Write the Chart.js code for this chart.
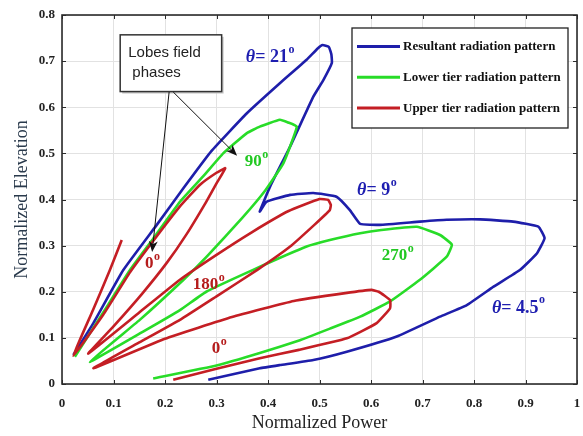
<!DOCTYPE html>
<html>
<head>
<meta charset="utf-8">
<script src="https://cdn.jsdelivr.net/npm/chart.js@4.4.0/dist/chart.umd.min.js"></script>
<style>
  html, body { margin: 0; padding: 0; background: #fff; }
</style>
</head>
<body>
<canvas id="pattern" width="583" height="436"></canvas>
<script>
const seriesNames = ['Resultant radiation pattern', 'Lower tier radiation pattern', 'Upper tier radiation pattern'];
const seriesColors = ['#1e1eaa', '#28dc28', '#c41e24'];

const xTickLabels = ['0', '0.1', '0.2', '0.3', '0.4', '0.5', '0.6', '0.7', '0.8', '0.9', '1'];
const yTickLabels = ['0', '0.1', '0.2', '0.3', '0.4', '0.5', '0.6', '0.7', '0.8'];

// resultant pattern (blue)
const resultantX = [0.022, 0.061, 0.119, 0.184, 0.236, 0.29, 0.359, 0.423, 0.475, 0.497, 0.506, 0.518, 0.523, 0.524, 0.508, 0.488, 0.443, 0.404, 0.384, 0.397, 0.443, 0.488, 0.533, 0.559, 0.579, 0.617, 0.695, 0.747, 0.812, 0.876, 0.925, 0.937, 0.922, 0.889, 0.838, 0.786, 0.734, 0.65, 0.553, 0.488, 0.423, 0.384, 0.284];
const resultantY = [0.063, 0.132, 0.247, 0.345, 0.425, 0.505, 0.587, 0.652, 0.703, 0.728, 0.735, 0.731, 0.715, 0.696, 0.66, 0.623, 0.515, 0.428, 0.374, 0.395, 0.41, 0.414, 0.406, 0.377, 0.347, 0.345, 0.352, 0.356, 0.357, 0.352, 0.341, 0.316, 0.283, 0.247, 0.211, 0.171, 0.146, 0.103, 0.07, 0.052, 0.041, 0.034, 0.009];

// lower tier pattern (green)
const lowerX = [0.177, 0.3, 0.384, 0.462, 0.52, 0.579, 0.637, 0.695, 0.747, 0.757, 0.734, 0.689, 0.62, 0.579, 0.52, 0.475, 0.37, 0.28, 0.229, 0.16, 0.054, 0.151, 0.236, 0.281, 0.35, 0.395, 0.43, 0.456, 0.439, 0.423, 0.384, 0.359, 0.313, 0.274, 0.229, 0.177, 0.132, 0.08, 0.025];
const lowerY = [0.012, 0.04, 0.067, 0.095, 0.12, 0.146, 0.179, 0.226, 0.276, 0.302, 0.323, 0.341, 0.334, 0.327, 0.312, 0.298, 0.247, 0.2, 0.16, 0.115, 0.048, 0.139, 0.226, 0.276, 0.36, 0.42, 0.479, 0.558, 0.567, 0.573, 0.558, 0.544, 0.5, 0.45, 0.395, 0.315, 0.247, 0.155, 0.059];

// upper tier pattern (red)
const upperX = [0.216, 0.3, 0.384, 0.46, 0.553, 0.611, 0.637, 0.637, 0.615, 0.601, 0.55, 0.45, 0.33, 0.2, 0.061, 0.15, 0.229, 0.3, 0.38, 0.443, 0.49, 0.52, 0.522, 0.517, 0.5, 0.44, 0.37, 0.3, 0.229, 0.15, 0.051, 0.1, 0.155, 0.203, 0.242, 0.28, 0.3, 0.317, 0.3, 0.268, 0.229, 0.177, 0.132, 0.08, 0.022, 0.06, 0.093, 0.116];
const upperY = [0.009, 0.033, 0.056, 0.074, 0.099, 0.132, 0.164, 0.182, 0.2, 0.204, 0.197, 0.18, 0.145, 0.098, 0.034, 0.09, 0.139, 0.19, 0.248, 0.298, 0.345, 0.377, 0.388, 0.399, 0.401, 0.375, 0.33, 0.28, 0.226, 0.155, 0.066, 0.125, 0.195, 0.262, 0.325, 0.395, 0.435, 0.468, 0.458, 0.432, 0.385, 0.31, 0.242, 0.15, 0.061, 0.16, 0.247, 0.312];

// lobe labels
const thetaLabels = [
  { x: 0.357, y: 0.709, text: '21' },
  { x: 0.573, y: 0.419, text: '9' },
  { x: 0.835, y: 0.165, text: '4.5' }
];
const phaseLabels = [
  { x: 0.355, y: 0.482, text: '90', series: 1 },
  { x: 0.621, y: 0.278, text: '270', series: 1 },
  { x: 0.161, y: 0.26, text: '0', series: 2 },
  { x: 0.254, y: 0.215, text: '180', series: 2 },
  { x: 0.291, y: 0.076, text: '0', series: 2 }
];
const calloutLines = ['Lobes field', ' phases'];
const calloutBox = { x0: 0.113, x1: 0.31, y0: 0.757, y1: 0.634 };
const calloutArrows = [
  { from: [0.208, 0.633], to: [0.175, 0.286] },
  { from: [0.216, 0.633], to: [0.34, 0.495] }
];

const labelColors = ['#1e1eb0', '#22c822', '#b51c1c'];
const serif = '"Liberation Serif", "Times New Roman", serif';

function toPoints(xs, ys) {
  return xs.map((x, i) => ({ x: x, y: ys[i] }));
}

function arrow(ctx, x1, y1, x2, y2) {
  const a = Math.atan2(y2 - y1, x2 - x1);
  ctx.beginPath();
  ctx.moveTo(x1, y1);
  ctx.lineTo(x2 - 6 * Math.cos(a), y2 - 6 * Math.sin(a));
  ctx.stroke();
  ctx.beginPath();
  ctx.moveTo(x2, y2);
  ctx.lineTo(x2 - 11 * Math.cos(a) + 4.5 * Math.sin(a), y2 - 11 * Math.sin(a) - 4.5 * Math.cos(a));
  ctx.lineTo(x2 - 8 * Math.cos(a), y2 - 8 * Math.sin(a));
  ctx.lineTo(x2 - 11 * Math.cos(a) - 4.5 * Math.sin(a), y2 - 11 * Math.sin(a) + 4.5 * Math.cos(a));
  ctx.closePath();
  ctx.fill();
}

// text with a raised small "o" for the degree mark
function degreeText(ctx, x, y, parts, size) {
  let cx = x;
  parts.forEach(p => {
    ctx.font = (p.italic ? 'italic ' : '') + 'bold ' + size + 'px ' + serif;
    ctx.fillText(p.t, cx, y);
    cx += ctx.measureText(p.t).width;
  });
  ctx.font = 'bold ' + Math.round(size * 0.68) + 'px ' + serif;
  ctx.fillText('o', cx + 0.5, y - size * 0.42);
}

const extras = {
  id: 'extras',
  afterDatasetsDraw(chart) {
    const { ctx, chartArea: a, scales: { x, y } } = chart;
    ctx.save();
    ctx.strokeStyle = '#2b2b2b';
    ctx.lineWidth = 1;
    x.ticks.forEach(t => {
      const px = Math.round(x.getPixelForValue(t.value)) + 0.5;
      ctx.beginPath();
      ctx.moveTo(px, a.bottom); ctx.lineTo(px, a.bottom - 4);
      ctx.moveTo(px, a.top); ctx.lineTo(px, a.top + 4);
      ctx.stroke();
    });
    y.ticks.forEach(t => {
      const py = Math.round(y.getPixelForValue(t.value)) + 0.5;
      ctx.beginPath();
      ctx.moveTo(a.left, py); ctx.lineTo(a.left + 4, py);
      ctx.moveTo(a.right, py); ctx.lineTo(a.right - 4, py);
      ctx.stroke();
    });
    ctx.lineWidth = 1.6;
    ctx.strokeRect(a.left, a.top, a.right - a.left, a.bottom - a.top);
    ctx.restore();
  },
  afterDraw(chart) {
    const { ctx, chartArea: a, scales: { x, y } } = chart;
    ctx.save();

    // legend
    const lx = a.right - 225, ly = a.top + 13, lw = 216, lh = 100;
    ctx.fillStyle = '#fff';
    ctx.fillRect(lx, ly, lw, lh);
    ctx.strokeStyle = '#222';
    ctx.lineWidth = 1.3;
    ctx.strokeRect(lx, ly, lw, lh);
    ctx.textBaseline = 'middle';
    ctx.font = 'bold 13px ' + serif;
    seriesNames.forEach((name, i) => {
      const ry = ly + 18.5 + i * 30.8;
      ctx.strokeStyle = seriesColors[i];
      ctx.lineWidth = 3;
      ctx.beginPath();
      ctx.moveTo(lx + 5, ry); ctx.lineTo(lx + 48, ry);
      ctx.stroke();
      ctx.fillStyle = '#111';
      ctx.fillText(name, lx + 51, ry + 0.5);
    });

    // lobe labels
    ctx.textBaseline = 'middle';
    ctx.fillStyle = labelColors[0];
    thetaLabels.forEach(l => {
      degreeText(ctx, x.getPixelForValue(l.x), y.getPixelForValue(l.y),
        [{ t: '\u03b8', italic: true }, { t: '= ' + l.text }], 18);
    });
    phaseLabels.forEach(l => {
      ctx.fillStyle = labelColors[l.series];
      degreeText(ctx, x.getPixelForValue(l.x), y.getPixelForValue(l.y), [{ t: l.text }], 17);
    });

    // callout box + arrows
    const bx0 = x.getPixelForValue(calloutBox.x0), bx1 = x.getPixelForValue(calloutBox.x1);
    const by0 = y.getPixelForValue(calloutBox.y0), by1 = y.getPixelForValue(calloutBox.y1);
    ctx.fillStyle = '#c8c8c8';
    ctx.fillRect(bx0 + 2, by0 + 2, bx1 - bx0, by1 - by0);
    ctx.fillStyle = '#fff';
    ctx.fillRect(bx0, by0, bx1 - bx0, by1 - by0);
    ctx.strokeStyle = '#333';
    ctx.lineWidth = 1.5;
    ctx.strokeRect(bx0, by0, bx1 - bx0, by1 - by0);
    ctx.fillStyle = '#222';
    ctx.font = '15px "Liberation Sans", Arial, sans-serif';
    ctx.textBaseline = 'middle';
    calloutLines.forEach((t, i) => ctx.fillText(t, bx0 + 8, by0 + 18 + i * 20));
    ctx.strokeStyle = '#111';
    ctx.fillStyle = '#111';
    ctx.lineWidth = 1;
    calloutArrows.forEach(ar => {
      arrow(ctx, x.getPixelForValue(ar.from[0]), y.getPixelForValue(ar.from[1]),
        x.getPixelForValue(ar.to[0]), y.getPixelForValue(ar.to[1]));
    });
    ctx.restore();
  }
};

const datasets = [
  { label: seriesNames[0], data: toPoints(resultantX, resultantY), borderColor: seriesColors[0], order: 2 },
  { label: seriesNames[1], data: toPoints(lowerX, lowerY), borderColor: seriesColors[1], order: 1 },
  { label: seriesNames[2], data: toPoints(upperX, upperY), borderColor: seriesColors[2], order: 0 }
].map(d => Object.assign(d, { showLine: true, pointRadius: 0, borderWidth: 2.6, tension: 0.12, fill: false }));

const config = {
  type: 'scatter',
  data: { datasets: datasets },
  options: {
    responsive: false,
    animation: false,
    layout: { padding: { left: 0, top: 15, right: 6, bottom: 0 } },
    plugins: { legend: { display: false }, tooltip: { enabled: false } },
    scales: {
      x: {
        type: 'linear', min: 0, max: 1,
        afterFit: s => { s.height = 52; s.paddingLeft = 0; s.paddingRight = 0; },
        ticks: {
          stepSize: 0.1, padding: 12, color: '#222',
          font: { family: serif, size: 13, weight: 'bold' },
          callback: (v, i) => xTickLabels[i]
        },
        grid: { color: '#e2e2e2', drawTicks: false },
        border: { display: false },
        title: {
          display: true, text: 'Normalized Power', color: '#222',
          font: { family: serif, size: 18 }, padding: { top: 0, bottom: 2 }
        }
      },
      y: {
        type: 'linear', min: 0, max: 0.8,
        afterFit: s => { s.width = 62; s.paddingTop = 0; s.paddingBottom = 0; },
        ticks: {
          stepSize: 0.1, padding: 7, color: '#222',
          font: { family: serif, size: 13, weight: 'bold' },
          callback: (v, i) => yTickLabels[i]
        },
        grid: { color: '#e2e2e2', drawTicks: false },
        border: { display: false },
        title: {
          display: true, text: 'Normalized Elevation', color: '#2a3a4c',
          font: { family: serif, size: 18 }, padding: { top: 11, bottom: 0 }
        }
      }
    }
  },
  plugins: [extras]
};

const chart = new Chart(document.getElementById('pattern'), config);
</script>
</body>
</html>
